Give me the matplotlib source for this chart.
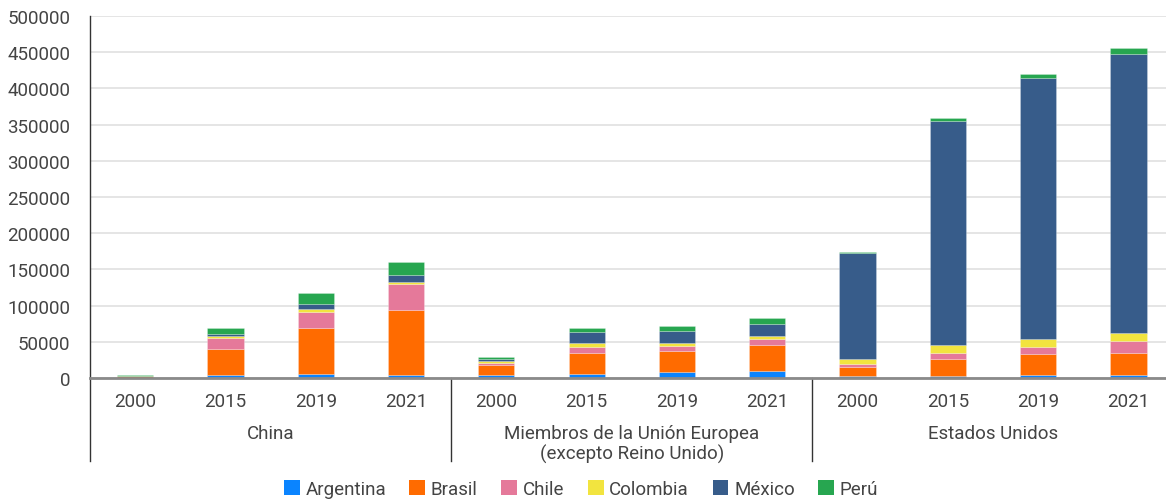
import matplotlib
matplotlib.use("Agg")
import matplotlib.pyplot as plt
from matplotlib.patches import Patch
from matplotlib.lines import Line2D
import numpy as np

groups = ["China", "Miembros de la Unión Europea\n(excepto Reino Unido)", "Estados Unidos"]
years = ["2000", "2015", "2019", "2021"]
series_names = ["Argentina", "Brasil", "Chile", "Colombia", "México", "Perú"]

# Order: China 2000,2015,2019,2021 | UE 2000..2021 | EEUU 2000..2021
argentina = [300, 4600, 6000, 4100, 3500, 6000, 7800, 9200, 2300, 2300, 3700, 3700]
brasil    = [2000, 35400, 62600, 89300, 14300, 29000, 29400, 36800, 12900, 24400, 30000, 31300]
chile     = [300, 14700, 22100, 35900, 2800, 7800, 6400, 7800, 3700, 7800, 8800, 15700]
colombia  = [100, 2800, 5000, 3200, 2800, 5500, 4600, 4100, 6900, 11100, 12000, 11500]
mexico    = [300, 3600, 6400, 9200, 3200, 15600, 16600, 17000, 146600, 309800, 360000, 385900]
peru      = [1000, 7800, 14700, 18400, 1800, 5100, 6900, 7400, 1800, 4100, 5500, 8300]

colors = ["#0A84FF", "#FF6B00", "#E5799A", "#F2E43F", "#375C8A", "#27A650"]
yticks = [0, 50000, 100000, 150000, 200000, 250000, 300000, 350000, 400000, 450000, 500000]

plt.rcParams['font.family'] = ['Roboto', 'DejaVu Sans']
textc = "#444444"
fs = 13.5

W, H = 1166, 502
fig = plt.figure(figsize=(W / 100, H / 100), dpi=100)
ax_left, ax_right, ax_top, ax_bottom = 90, 1166, 17, 379
ax = fig.add_axes([ax_left / W, 1 - ax_bottom / H, (ax_right - ax_left) / W, (ax_bottom - ax_top) / H])

data = [argentina, brasil, chile, colombia, mexico, peru]
x = np.arange(12)
bottom = np.zeros(12)
for name, vals, c in zip(series_names, data, colors):
    vals = np.array(vals, dtype=float)
    ax.bar(x, vals, width=0.4, bottom=bottom, color=c, edgecolor=(1, 1, 1, 0.4), linewidth=0.4,
           label=name, zorder=3)
    bottom += vals

slot = 90.3
ax.set_xlim(-0.5, -0.5 + (ax_right - ax_left) / slot)
ax.set_ylim(0, 500000)
ax.set_yticks(yticks)
ax.set_yticklabels([str(v) for v in yticks], fontsize=fs, color=textc)
ax.tick_params(axis='y', length=0, pad=14)
ax.set_xticks(x)
ax.set_xticklabels(years * 3, fontsize=fs, color=textc)
ax.tick_params(axis='x', length=0, pad=10)
ax.grid(axis='y', color="#e3e3e3", linewidth=1.3, zorder=0)
for s in ["top", "right"]:
    ax.spines[s].set_visible(False)
ax.spines["bottom"].set_color("#8a8a8a")
ax.spines["bottom"].set_linewidth(2)
ax.spines["bottom"].set_zorder(4)
ax.spines["left"].set_visible(False)

low = (ax_bottom - 462) / (ax_bottom - ax_top)
ax.add_line(Line2D([-0.5, -0.5], [low, 1], transform=ax.get_xaxis_transform(), color="#333333",
                   linewidth=1, clip_on=False))
for sep in [3.5, 7.5]:
    ax.add_line(Line2D([sep, sep], [low, 0], transform=ax.get_xaxis_transform(), color="#333333",
                       linewidth=1, clip_on=False))

ylab = (ax_bottom - 425) / (ax_bottom - ax_top)
for i, g in enumerate(groups):
    ax.text(4 * i + 1.5, ylab, g, transform=ax.get_xaxis_transform(), ha='center', va='top',
            fontsize=fs, color=textc, linespacing=1.1)

handles = [Patch(facecolor=c, edgecolor='none') for c in colors]
fig.legend(handles, series_names, loc='center', bbox_to_anchor=(581 / W, 1 - 490 / H), ncol=6,
           frameon=False, fontsize=fs, handlelength=0.85, handleheight=0.85, handletextpad=0.3,
           columnspacing=1.25, labelcolor=textc)

fig.savefig("out.png", dpi=100)
